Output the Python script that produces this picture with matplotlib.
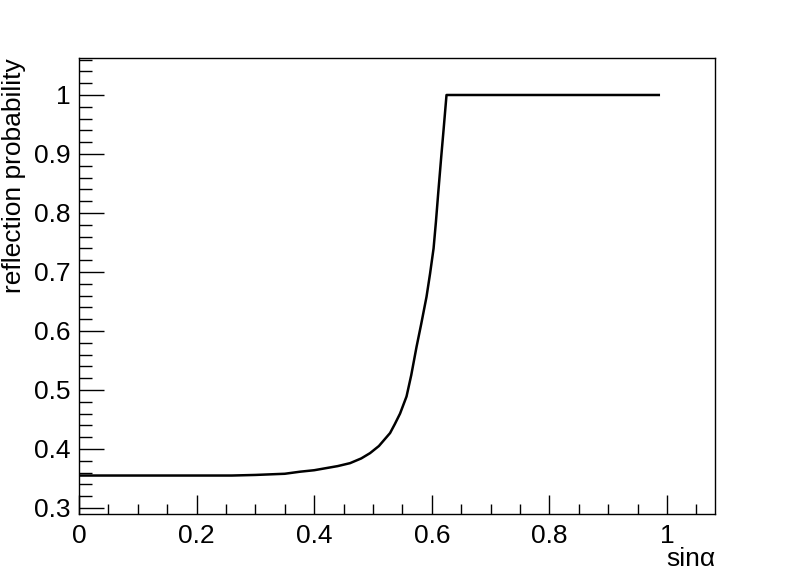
import matplotlib
matplotlib.use("Agg")
import matplotlib.pyplot as plt
from matplotlib.ticker import MultipleLocator

plt.rcParams['font.family'] = ['Liberation Sans', 'DejaVu Sans']

# curve
sin_alpha = [0.0, 0.1, 0.2, 0.26, 0.3, 0.35, 0.376, 0.40, 0.44, 0.461, 0.48, 0.495, 0.51,
             0.529, 0.537, 0.546, 0.557, 0.565, 0.574, 0.582, 0.591, 0.597, 0.603, 0.607,
             0.611, 0.616, 0.620, 0.625, 0.70, 0.80, 0.90, 0.986]
refl_prob = [0.355, 0.355, 0.355, 0.355, 0.356, 0.358, 0.3615, 0.364, 0.371, 0.376, 0.384, 0.393, 0.405,
             0.427, 0.442, 0.460, 0.489, 0.525, 0.573, 0.612, 0.658, 0.697, 0.740, 0.785,
             0.835, 0.895, 0.941, 1.0, 1.0, 1.0, 1.0, 1.0]

x_ticks = [0, 0.2, 0.4, 0.6, 0.8, 1]
x_ticklabels = ['0', '0.2', '0.4', '0.6', '0.8', '1']
y_ticks = [0.3, 0.4, 0.5, 0.6, 0.7, 0.8, 0.9, 1]
y_ticklabels = ['0.3', '0.4', '0.5', '0.6', '0.7', '0.8', '0.9', '1']

fig = plt.figure(figsize=(7.96, 5.72), dpi=100)
ax = fig.add_axes([79/796, 1 - 514/572, (715 - 79)/796, (514 - 58)/572])

ax.plot(sin_alpha, refl_prob, color='black', lw=1.8)

ax.set_xlim(0, 1.0816)
ax.set_ylim(0.2898, 1.0627)

ax.set_xticks(x_ticks)
ax.set_xticklabels(x_ticklabels)
ax.set_yticks(y_ticks)
ax.set_yticklabels(y_ticklabels)
ax.xaxis.set_minor_locator(MultipleLocator(0.05))
ax.yaxis.set_minor_locator(MultipleLocator(0.02))

ax.tick_params(which='both', direction='in', top=False, right=False, labelsize=19, width=1)
ax.tick_params(axis='x', which='major', length=14, pad=7)
ax.tick_params(axis='x', which='minor', length=7)
ax.tick_params(axis='y', which='major', length=18, pad=6)
ax.tick_params(axis='y', which='minor', length=9)
for s in ax.spines.values():
    s.set_linewidth(1)

fig.text(715/796, 1 - 566/572, 'sin\u03b1', ha='right', va='baseline', fontsize=19)
fig.text(14/796, 1 - 58/572, 'reflection probability', ha='center', va='top',
         rotation=90, fontsize=19)

fig.savefig('out.png', dpi=100)
